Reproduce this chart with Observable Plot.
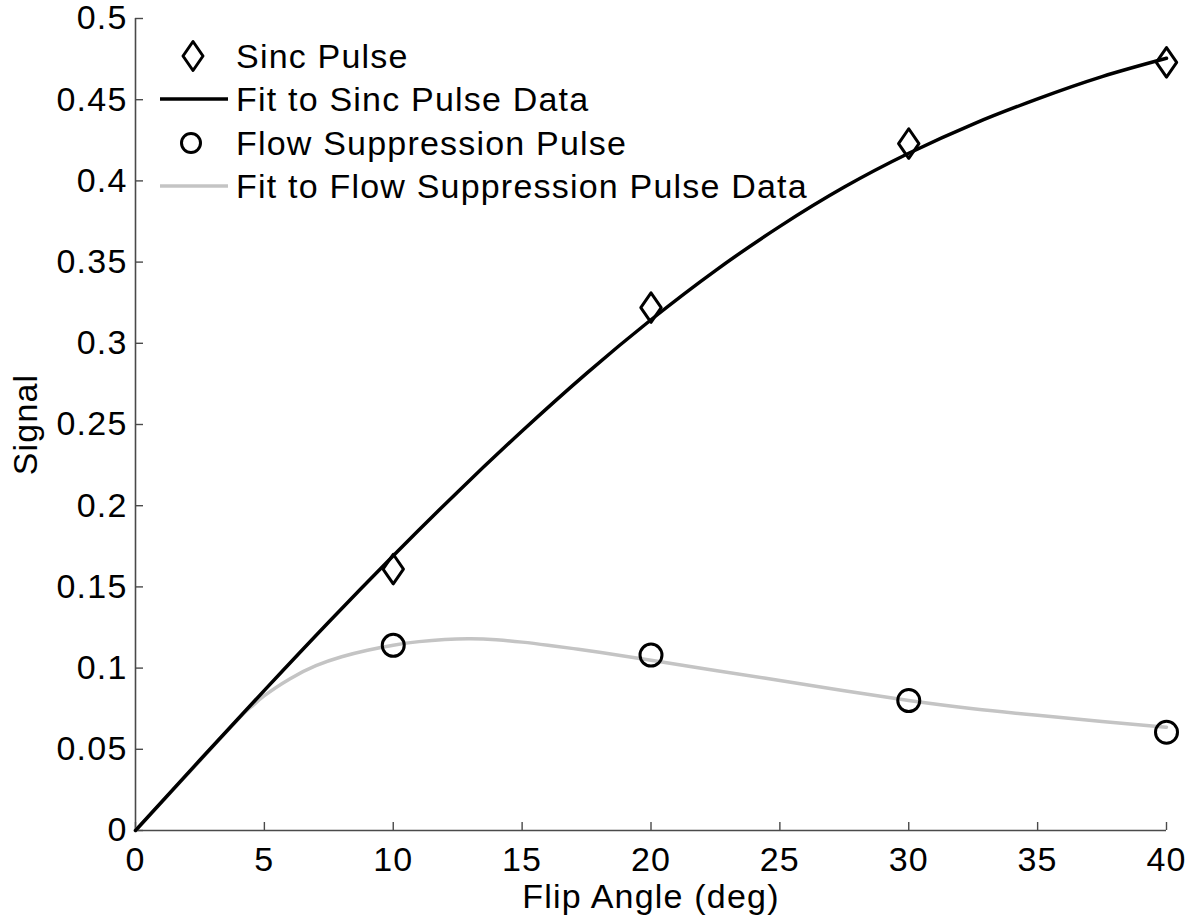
<!DOCTYPE html>
<html>
<head>
<meta charset="utf-8">
<script src="https://cdn.jsdelivr.net/npm/d3@7"></script>
<script src="https://cdn.jsdelivr.net/npm/@observablehq/plot@0.6"></script>
<style>
  html, body { margin: 0; padding: 0; background: #fff; }
  #wrap { position: relative; width: 1197px; height: 919px; }
  #legend { position: absolute; left: 0; top: 0; pointer-events: none; }
  svg text { letter-spacing: 1.2px; }
</style>
</head>
<body>
<div id="wrap"></div>
<script>
// ---- Data ----
const xTicks = [0, 5, 10, 15, 20, 25, 30, 35, 40];
const yTicks = [0, 0.05, 0.1, 0.15, 0.2, 0.25, 0.3, 0.35, 0.4, 0.45, 0.5];
const yTickLabels = ["0", "0.05", "0.1", "0.15", "0.2", "0.25", "0.3", "0.35", "0.4", "0.45", "0.5"];

const sincAngle  = [10, 20, 30, 40];
const sincSignal = [0.161, 0.322, 0.423, 0.473];

const flowAngle  = [10, 20, 30, 40];
const flowSignal = [0.114, 0.108, 0.080, 0.0605];

const sincFitAngle  = [0, 2.5, 5, 7.5, 10, 12.5, 15, 17.5, 20, 22.5, 25, 27.5, 30, 32.5, 35, 37.5, 40];
const sincFitSignal = [0, 0.0434, 0.0863, 0.1284, 0.1692, 0.2085, 0.2460, 0.2815, 0.3145, 0.3448, 0.3720, 0.3962, 0.4170, 0.4350, 0.4505, 0.4642, 0.4755];

const flowFitAngle  = [0, 2, 4, 4.5, 5, 6, 7, 8, 9, 10, 11, 12, 13, 14, 15, 16, 17, 18, 20, 22.5, 25, 27.5, 30, 32.5, 35, 37.5, 40];
const flowFitSignal = [0, 0.0344, 0.0688, 0.0763, 0.0830, 0.0935, 0.1015, 0.1070, 0.1110, 0.1141, 0.1163, 0.1176, 0.1180, 0.1174, 0.1160, 0.1141, 0.1120, 0.1097, 0.1048, 0.0985, 0.0924, 0.0860, 0.0801, 0.0750, 0.0709, 0.0671, 0.0636];

const legendLabels = ["Sinc Pulse", "Fit to Sinc Pulse Data", "Flow Suppression Pulse", "Fit to Flow Suppression Pulse Data"];
const xLabel = "Flip Angle (deg)";
const yLabel = "Signal";

// ---- Build tables ----
const sinc = sincAngle.map((a, i) => ({angle: a, signal: sincSignal[i]}));
const flow = flowAngle.map((a, i) => ({angle: a, signal: flowSignal[i]}));
const sincFit = sincFitAngle.map((a, i) => ({angle: a, signal: sincFitSignal[i]}));
const flowFit = flowFitAngle.map((a, i) => ({angle: a, signal: flowFitSignal[i]}));

// tall diamond (MATLAB style marker)
const tallDiamond = {
  draw(ctx, size) {
    const r = Math.sqrt(size / Math.PI);
    const w = r, h = r * 1.45;
    ctx.moveTo(0, -h); ctx.lineTo(w, 0); ctx.lineTo(0, h); ctx.lineTo(-w, 0); ctx.closePath();
  }
};

const FONT = '"Liberation Sans", Arial, Helvetica, sans-serif';
const AXIS = "#4a4a4a";
const GRAY = "#c4c4c4";

const chart = Plot.plot({
  width: 1197,
  height: 919,
  marginLeft: 135,
  marginRight: 31,
  marginTop: 18,
  marginBottom: 89,
  x: {domain: [0, 40]},
  y: {domain: [0, 0.5]},
  style: {fontFamily: FONT, fontSize: "34px", color: "#000", background: "#fff", overflow: "visible"},
  marks: [
    // axis lines
    Plot.ruleX([0], {stroke: AXIS, strokeWidth: 1.6}),
    Plot.ruleY([0], {stroke: AXIS, strokeWidth: 1.6}),
    // inward tick marks
    Plot.ruleX(xTicks, {x: d => d, y1: 0, y2: 0, insetTop: -8, stroke: AXIS, strokeWidth: 1.4}),
    Plot.ruleY(yTicks, {y: d => d, x1: 0, x2: 0, insetRight: -8, stroke: AXIS, strokeWidth: 1.4}),
    // tick labels and axis labels
    Plot.axisX(xTicks, {tickSize: 0, tickPadding: 16,
      label: xLabel, labelAnchor: "center", labelArrow: "none", labelOffset: 77}),
    Plot.axisY(yTicks, {tickSize: 0, tickPadding: 8,
      tickFormat: (d, i) => yTickLabels[i],
      label: yLabel, labelAnchor: "center", labelArrow: "none", labelOffset: 123}),
    // fits
    Plot.line(flowFit, {x: "angle", y: "signal", stroke: GRAY, strokeWidth: 3.5, curve: "natural"}),
    Plot.line(sincFit, {x: "angle", y: "signal", stroke: "#000", strokeWidth: 3.5, curve: "natural"}),
    // data
    Plot.dot(sinc, {x: "angle", y: "signal", symbol: tallDiamond, r: 10.2, stroke: "#000", strokeWidth: 3, strokeLinejoin: "round", fill: "none"}),
    Plot.dot(flow, {x: "angle", y: "signal", symbol: "circle", r: 11, stroke: "#000", strokeWidth: 3, fill: "none"})
  ]
});
document.getElementById("wrap").appendChild(chart);

// ---- Legend (inside the axes, top-left) ----
const lg = d3.select("#wrap").append("svg")
  .attr("id", "legend").attr("width", 1197).attr("height", 919)
  .style("font-family", FONT).style("font-size", "34px");
const rowsY = [56, 99, 143, 186];
const types = ["diamond", "line", "circle", "grayline"];
types.forEach((t, i) => {
  const y = rowsY[i];
  if (t === "diamond") {
    lg.append("path").attr("d", d3.symbol(tallDiamond, Math.PI * 10 * 10)())
      .attr("transform", `translate(193,${y})`).attr("fill", "none").attr("stroke", "#000")
      .attr("stroke-width", 3).attr("stroke-linejoin", "round");
  } else if (t === "circle") {
    lg.append("circle").attr("cx", 191).attr("cy", y).attr("r", 9.5)
      .attr("fill", "none").attr("stroke", "#000").attr("stroke-width", 3);
  } else {
    lg.append("line").attr("x1", 160).attr("x2", 228).attr("y1", y).attr("y2", y)
      .attr("stroke", t === "line" ? "#000" : GRAY).attr("stroke-width", 3.5);
  }
  lg.append("text").attr("x", 236).attr("y", y).attr("dy", "0.36em")
    .attr("fill", "#000").text(legendLabels[i]);
});
</script>
</body>
</html>
